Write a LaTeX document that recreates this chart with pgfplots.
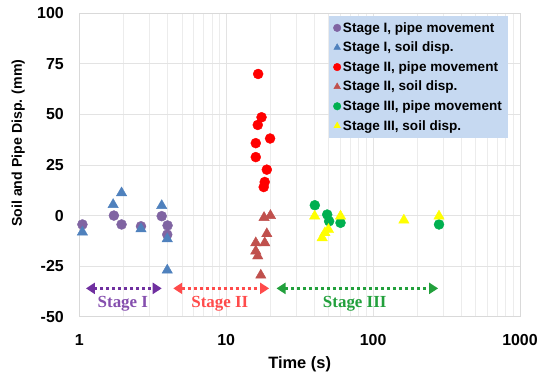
\documentclass[border=0pt]{standalone}
\usepackage{fontspec}
\setmainfont{Liberation Sans}
\newfontfamily\serifbf{Liberation Serif}
\usepackage{pgfplots}
\pgfplotsset{compat=1.18}
\usetikzlibrary{arrows.meta}
\definecolor{cIp}{HTML}{8064A2}
\definecolor{cIs}{HTML}{4F81BD}
\definecolor{cIIp}{HTML}{FF0000}
\definecolor{cIIs}{HTML}{C0504D}
\definecolor{cIIIp}{HTML}{00B050}
\definecolor{cIIIs}{HTML}{FFFF00}
\definecolor{aI}{HTML}{7030A0}
\definecolor{aII}{HTML}{FF4B4B}
\definecolor{aIII}{HTML}{22A03C}
\definecolor{legfill}{HTML}{C6D9F1}
\begin{document}
\begin{tikzpicture}
\useasboundingbox (-79.3bp,-62.3bp) rectangle (467.7bp,316.7bp);
\begin{axis}[
  scale only axis, width=440.7bp, height=303.4bp,
  xmode=log, xmin=1, xmax=1000, ymin=-50, ymax=100,
  xtick={1,10,100,1000}, xticklabels={1,10,100,1000},
  ytick={-50,-25,0,25,50,75,100}, yticklabels={-50,-25,0,25,50,75,100},
  minor y tick num=0,
  grid=both,
  major grid style={gray!22, line width=0.8bp},
  minor grid style={gray!15, line width=0.8bp},
  axis line style={gray!30, line width=0.8bp},
  major tick length=0, minor tick length=0,
  tick label style={font=\fontsize{16}{18}\selectfont\bfseries},
  xticklabel style={yshift=-14bp},
  yticklabel style={xshift=-12bp},
  xlabel={Time (s)}, ylabel={Soil and Pipe Disp. (mm)},
  xlabel style={font=\fontsize{16.5}{18}\selectfont\bfseries, at={(axis description cs:0.5,-0.158)}, anchor=center},
  ylabel style={font=\fontsize{14.2}{16}\selectfont\bfseries, at={(axis description cs:-0.1384,0.572)}, anchor=center},
  legend style={at={(0.567,0.991)}, anchor=north west, fill=legfill, draw=none,
    font=\fontsize{13.6}{15.5}\selectfont\bfseries, row sep=4.3bp, inner sep=4bp},
  legend cell align=left,
  legend image post style={mark size=3.8bp},
  clip=false,
]
\addplot[only marks, mark=*, mark size=5bp, color=cIp] coordinates {
  (1.05,-4.4) (1.72,0) (1.94,-4.4) (2.63,-5.3) (3.64,-0.3) (3.99,-4.9) (3.97,-9.4)};
\addlegendentry{Stage I, pipe movement}
\addplot[only marks, mark=triangle*, mark size=6bp, color=cIs] coordinates {
  (1.05,-8.2) (1.70,5.4) (1.94,11.2) (2.63,-6.6) (3.64,4.9) (3.97,-11.5) (3.97,-27)};
\addlegendentry{Stage I, soil disp.}
\addplot[only marks, mark=*, mark size=5bp, color=cIIp] coordinates {
  (16.5,70) (17.4,48.6) (16.4,44.8) (19.9,38.1) (15.9,35.8) (15.9,28.9) (18.9,22.7) (18.3,16.6) (18.0,14.1)};
\addlegendentry{Stage II, pipe movement}
\addplot[only marks, mark=triangle*, mark size=6bp, color=cIIs] coordinates {
  (18.1,-1) (20.0,0) (18.9,-9) (15.9,-13.5) (18.3,-13.5) (15.9,-17.6) (16.4,-20) (17.2,-29.5)};
\addlegendentry{Stage II, soil disp.}
\addplot[only marks, mark=*, mark size=5bp, color=cIIIp] coordinates {
  (40.1,5.1) (48.7,0.5) (50.2,-2.8) (60,-3.6) (281,-4.4)};
\addlegendentry{Stage III, pipe movement}
\addplot[only marks, mark=triangle*, mark size=6bp, color=cIIIs] coordinates {
  (40,-0.3) (45,-11) (49.7,-6.9) (47,-8.5) (60,-0.3) (162,-2.3) (281,-0.3)};
\addlegendentry{Stage III, soil disp.}
\draw[aI, line width=3bp, dash pattern=on 3bp off 3bp, {Triangle[length=9bp,width=11bp]}-{Triangle[length=9bp,width=11bp]}] (axis cs:1.11,-36) -- (axis cs:3.64,-36);
\draw[aII, line width=3bp, dash pattern=on 3bp off 3bp, {Triangle[length=9bp,width=11bp]}-{Triangle[length=9bp,width=11bp]}] (axis cs:4.36,-36) -- (axis cs:19.6,-36);
\draw[aIII, line width=3bp, dash pattern=on 3bp off 3bp, {Triangle[length=9bp,width=11bp]}-{Triangle[length=9bp,width=11bp]}] (axis cs:22,-36) -- (axis cs:277,-36);
\node[text=aI!85!white, font=\serifbf\fontsize{17}{19}\selectfont\bfseries] at (axis cs:1.98,-43.8) {Stage I};
\node[text=aII, font=\serifbf\fontsize{17}{19}\selectfont\bfseries] at (axis cs:9.05,-43.8) {Stage II};
\node[text=aIII, font=\serifbf\fontsize{17}{19}\selectfont\bfseries] at (axis cs:75,-43.8) {Stage III};
\end{axis}
\end{tikzpicture}
\end{document}
